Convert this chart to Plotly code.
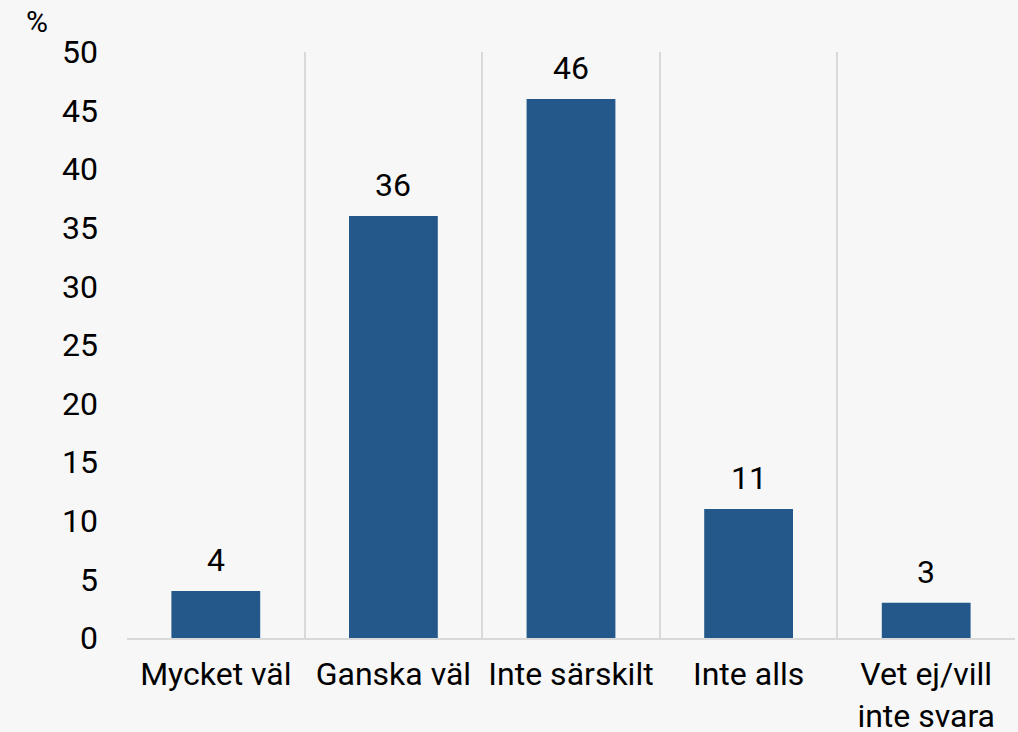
import plotly.graph_objects as go

categories = ["Mycket väl", "Ganska väl", "Inte särskilt", "Inte alls", "Vet ej/vill<br>inte svara"]
values = [4, 36, 46, 11, 3]
y_ticks = [0, 5, 10, 15, 20, 25, 30, 35, 40, 45, 50]

bg = "#f7f7f7"
font = dict(family="Roboto", size=32, color="#000000")

fig = go.Figure(go.Bar(
    x=categories, y=values,
    marker=dict(color="#24578a", line=dict(width=0)),
    width=0.5,
    hoverinfo="x+y",
))

annotations = [dict(text="%", xref="paper", yref="paper", x=-0.101, y=1.052,
                    xanchor="center", yanchor="middle", showarrow=False,
                    font=dict(family="Roboto", size=30, color="#000000"))]
for c, v in zip(categories, values):
    annotations.append(dict(text=str(v), x=c, y=v, xref="x", yref="y",
                            yanchor="bottom", yshift=10, showarrow=False, font=font))

fig.update_layout(
    width=1018, height=732,
    paper_bgcolor=bg, plot_bgcolor=bg,
    margin=dict(l=127, r=3, t=52, b=94, autoexpand=False),
    font=font,
    showlegend=False,
    annotations=annotations,
)
fig.update_xaxes(
    type="category", tickson="boundaries", showgrid=True, gridcolor="#d9d9d9", gridwidth=2,
    showline=True, linecolor="#d9d9d9", linewidth=2, ticks="",
    tickfont=font, ticklabelstandoff=7, automargin=False,
)
fig.update_yaxes(
    range=[0, 50], tickvals=y_ticks, showgrid=False, zeroline=False, showline=False,
    ticks="", tickfont=font, ticklabelstandoff=28, automargin=False,
)
fig.write_html("out.html", config={"displayModeBar": False},
               post_script="document.body.style.margin='0';")
